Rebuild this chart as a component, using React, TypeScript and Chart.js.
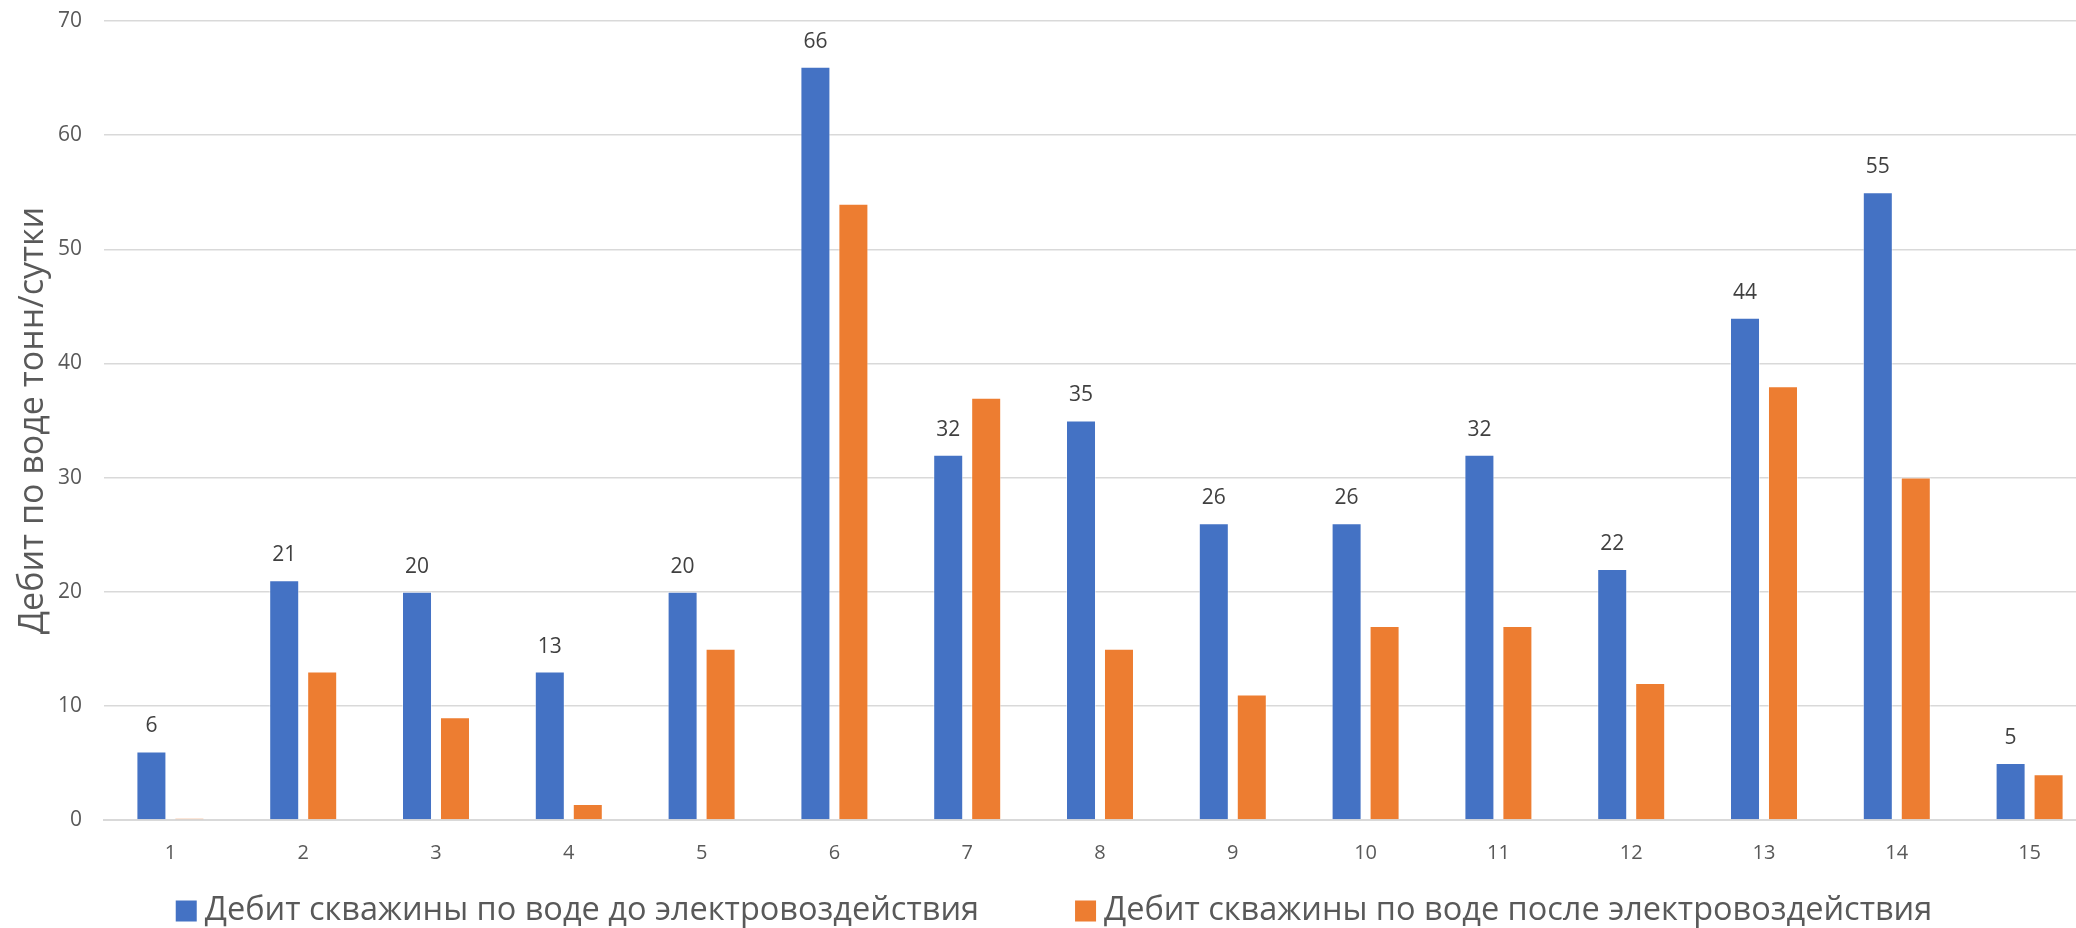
import React, { useEffect, useRef } from "react";
import { Chart, registerables } from "chart.js";

Chart.register(...registerables);

const categories = ["1", "2", "3", "4", "5", "6", "7", "8", "9", "10", "11", "12", "13", "14", "15"];
const beforeValues = [6, 21, 20, 13, 20, 66, 32, 35, 26, 26, 32, 22, 44, 55, 5];
const afterValues = [0.15, 13, 9, 1.4, 15, 54, 37, 15, 11, 17, 17, 12, 38, 30, 4];
const seriesNames = [
  "Дебит скважины по воде до электровоздействия",
  "Дебит скважины по воде после электровоздействия",
];
const seriesColors = ["#4472C4", "#ED7D31"];
const yTitle = "Дебит по воде тонн/сутки";

const FONT = "'Open Sans', 'Noto Sans', sans-serif";

const labelPlugin = {
  id: "barLabels",
  afterDatasetsDraw(chart: any) {
    const ctx = chart.ctx;
    const meta = chart.getDatasetMeta(0);
    ctx.save();
    ctx.font = `21px ${FONT}`;
    ctx.fillStyle = "#404040";
    ctx.textAlign = "center";
    ctx.textBaseline = "middle";
    meta.data.forEach((el: any, i: number) => {
      ctx.fillText(String(beforeValues[i]), el.x, el.y - 25);
    });
    ctx.restore();
  },
};

const legendPlugin = {
  id: "customLegend",
  afterDraw(chart: any) {
    const ctx = chart.ctx;
    ctx.save();
    ctx.font = `32.5px ${FONT}`;
    ctx.textBaseline = "middle";
    const box = 21;
    const gapText = 8;
    const gapItem = 96;
    const widths = seriesNames.map((n) => ctx.measureText(n).width);
    const total = widths.reduce((a, w) => a + box + gapText + w, 0) + gapItem * (seriesNames.length - 1);
    let x = 1054 - total / 2;
    const y = 911;
    seriesNames.forEach((n, i) => {
      ctx.fillStyle = seriesColors[i];
      ctx.fillRect(x, y - box / 2, box, box);
      x += box + gapText;
      ctx.fillStyle = "#595959";
      ctx.textAlign = "left";
      ctx.fillText(n, x, y);
      x += widths[i] + gapItem;
    });
    ctx.restore();
  },
};

export default function App() {
  const ref = useRef<HTMLCanvasElement | null>(null);
  useEffect(() => {
    if (!ref.current) return;
    const chart = new Chart(ref.current, {
      type: "bar",
      data: {
        labels: categories,
        datasets: [
          {
            label: seriesNames[0],
            data: beforeValues,
            backgroundColor: seriesColors[0],
            borderColor: "rgba(255,255,255,0.5)",
            borderWidth: 1,
          },
          {
            label: seriesNames[1],
            data: afterValues,
            backgroundColor: seriesColors[1],
            borderColor: "rgba(255,255,255,0.5)",
            borderWidth: 1,
          },
        ],
      },
      options: {
        animation: false,
        responsive: false,
        maintainAspectRatio: false,
        layout: { padding: { top: 21, right: 4, left: 0, bottom: 42 } },
        datasets: {
          bar: { categoryPercentage: 0.572, barPercentage: 0.79 },
        },
        plugins: {
          tooltip: { enabled: false },
          legend: { display: false },
        },
        scales: {
          x: {
            grid: { display: false, drawTicks: false },
            border: { display: true, color: "#d9d9d9", width: 2 },
            ticks: { color: "#595959", font: { family: FONT, size: 20 }, padding: 21 },
          },
          y: {
            min: 0,
            max: 70,
            ticks: { stepSize: 10, color: "#595959", font: { family: FONT, size: 21 }, padding: 22 },
            grid: { color: "#d9d9d9", lineWidth: 1.5, drawTicks: false },
            border: { display: false },
            title: {
              display: true,
              text: yTitle,
              color: "#595959",
              font: { family: FONT, size: 34 },
              padding: { top: 13, bottom: 0 },
            },
            afterFit: (s: any) => {
              s.width = 104;
              s.paddingTop = 0;
              s.paddingBottom = 0;
            },
          },
        },
      },
      plugins: [labelPlugin, legendPlugin],
    });
    return () => chart.destroy();
  }, []);
  return (
    <div style={{ position: "fixed", left: 0, top: 0, width: 2076, height: 928, overflow: "hidden", background: "#fff" }}>
      <canvas ref={ref} width={2100} height={928} style={{ width: 2100, height: 928, display: "block" }} />
    </div>
  );
}
